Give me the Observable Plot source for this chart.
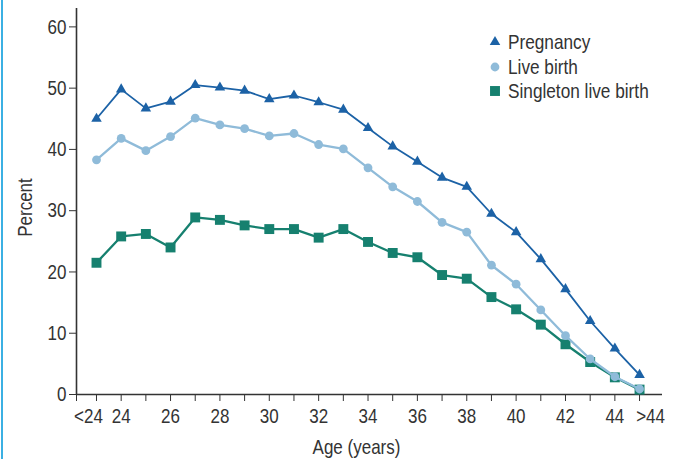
<!DOCTYPE html>
<html><head><meta charset="utf-8">
<script src="https://cdn.jsdelivr.net/npm/d3@7"></script>
<script src="https://cdn.jsdelivr.net/npm/@observablehq/plot@0.6"></script>
<style>
body{margin:0;background:#fff;}
#wrap{position:relative;width:680px;height:459px;overflow:hidden;font-family:"Liberation Sans",Arial,sans-serif;color:#333;}
#edge{position:absolute;left:1px;top:0;width:2px;height:459px;background:#3bb0e3;}
#legend{position:absolute;left:487px;top:30px;font-size:21px;color:#333;}
.item{display:flex;align-items:center;height:24.5px;white-space:nowrap;}
.item svg{width:16px;height:16px;margin-right:5px;overflow:visible;flex:none;}
.item span{display:inline-block;transform:scaleX(0.82);transform-origin:left center;}
</style></head><body>
<div id="wrap"><div id="edge"></div><div id="chart"></div><div id="legend"></div></div>
<script>
const ageGroups = ["<24","24","25","26","27","28","29","30","31","32","33","34","35","36","37","38","39","40","41","42","43","44",">44"];
const pregnancy = [45.0,49.8,46.7,47.8,50.5,50.1,49.6,48.2,48.8,47.7,46.5,43.5,40.5,38.0,35.4,33.9,29.5,26.5,22.1,17.2,12.0,7.5,3.2];
const liveBirth = [38.3,41.8,39.8,42.1,45.1,44.0,43.4,42.2,42.6,40.8,40.1,37.0,33.9,31.5,28.1,26.5,21.1,18.0,13.8,9.6,5.8,2.9,0.9];
const singleton = [21.5,25.8,26.2,24.0,28.9,28.5,27.6,27.0,27.0,25.6,27.0,24.9,23.1,22.4,19.5,18.9,15.9,13.9,11.4,8.2,5.3,2.8,0.8];
const seriesNames = ["Pregnancy","Live birth","Singleton live birth"];
const seriesColors = ["#1c62a6","#8fbbd9","#16806f"];
const seriesSymbols = ["triangle","circle","square"];
const seriesRadius = [3.9,4.4,5.6];
const yTicks = [0,10,20,30,40,50,60];
const xTickLabels = ["24","26","28","30","32","34","36","38","40","42","44"];
const xFirstLabel = "<24";
const xLastLabel = ">44";

const xDomain = [-0.81, 22.93];
const seriesValues = [pregnancy, liveBirth, singleton];
const rows = seriesValues.map((vals, s) => vals.map((v, i) => ({i, age: ageGroups[i], value: v, series: seriesNames[s]})));

// draw order: pregnancy, singleton, live birth (live birth sits on top)
const order = [0, 2, 1];
const marks = [];
for (const s of order) {
  marks.push(Plot.line(rows[s], {x: "i", y: "value", stroke: seriesColors[s], strokeWidth: s === 0 ? 1.8 : 2.3}));
  marks.push(Plot.dot(rows[s], {x: "i", y: "value", symbol: seriesSymbols[s], r: seriesRadius[s], fill: seriesColors[s], stroke: "none"}));
}
const lastIndex = ageGroups.length - 1;
const FS = 21;

const chart = Plot.plot({
  width: 680,
  height: 459,
  marginLeft: 76,
  marginRight: 18,
  marginTop: 8,
  marginBottom: 65,
  style: {fontFamily: "'Liberation Sans',Arial,sans-serif", color: "#333", background: "transparent"},
  x: {type: "linear", domain: xDomain},
  y: {domain: [0, 63]},
  marks: [
    Plot.axisY({ticks: yTicks, tickSize: 7, tickPadding: 3, fontSize: FS, label: null, tickFormat: d => String(d)}),
    Plot.axisX({ticks: [xDomain[0], ...ageGroups.map((_, i) => i)], tickSize: 7, tickPadding: 7, fontSize: FS, label: null,
      tickFormat: i => (Number.isInteger(i) && xTickLabels.includes(ageGroups[i])) ? ageGroups[i] : ""}),
    Plot.axisX({ticks: [0], tickSize: 0, tickPadding: 14, fontSize: FS, label: null, dx: -8, tickFormat: () => xFirstLabel}),
    Plot.axisX({ticks: [lastIndex], tickSize: 0, tickPadding: 14, fontSize: FS, label: null, dx: 11, tickFormat: () => xLastLabel}),
    Plot.ruleX([xDomain[0]], {stroke: "#333", strokeWidth: 1.6}),
    Plot.ruleY([0], {stroke: "#333", strokeWidth: 1.6}),
    Plot.text(["Percent"], {frameAnchor: "left", textAnchor: "middle", lineAnchor: "middle", dx: -51, dy: 6, rotate: -90, fontSize: FS, fill: "#333"}),
    Plot.text(["Age (years)"], {frameAnchor: "bottom", textAnchor: "middle", lineAnchor: "middle", dx: -13, dy: 53, fontSize: FS, fill: "#333"}),
    ...marks
  ]
});
// condense the text (the original uses a condensed sans face)
chart.querySelectorAll("text").forEach(t => {
  const tr = t.getAttribute("transform") || "";
  t.setAttribute("transform", (tr + " scale(0.81,1)").trim());
});
document.getElementById("chart").appendChild(chart);

const legend = document.getElementById("legend");
seriesNames.forEach((name, s) => {
  const item = document.createElement("div");
  item.className = "item";
  const sym = {triangle: d3.symbolTriangle, circle: d3.symbolCircle, square: d3.symbolSquare}[seriesSymbols[s]];
  const size = Math.PI * seriesRadius[s] * seriesRadius[s];
  item.innerHTML = `<svg viewBox="-8 -8 16 16"><path d="${d3.symbol(sym, size)()}" fill="${seriesColors[s]}"></path></svg><span>${name}</span>`;
  legend.appendChild(item);
});
</script>
</body></html>
